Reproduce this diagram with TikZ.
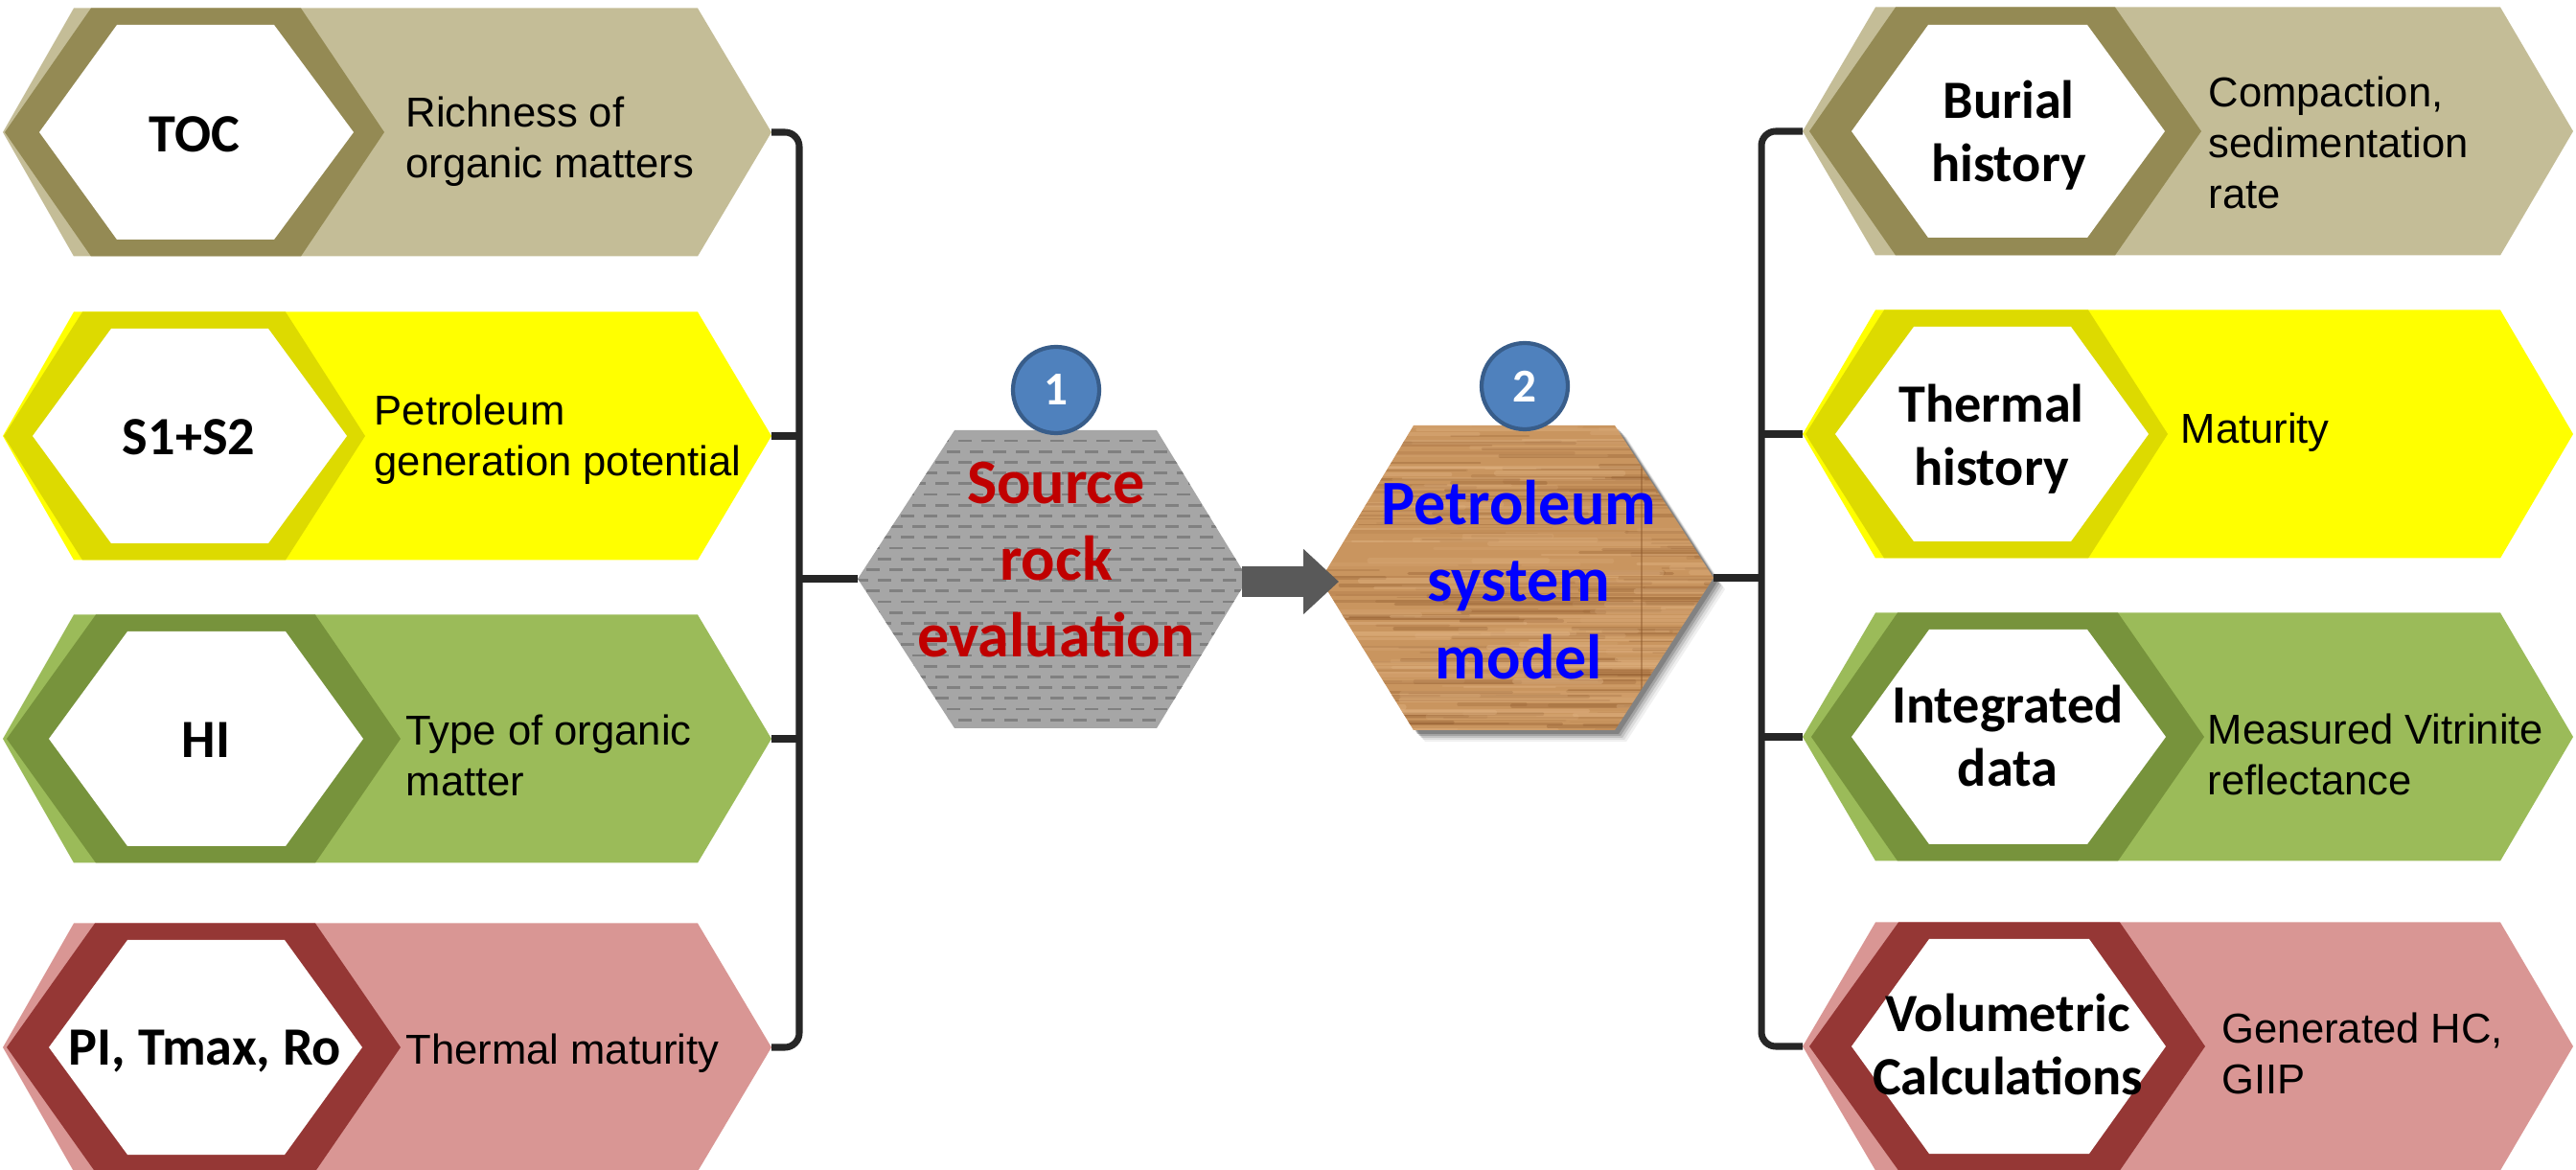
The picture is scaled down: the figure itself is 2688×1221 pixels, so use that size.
\documentclass[tikz,border=0pt]{standalone}
\usepackage{fontspec}
\setmainfont{Liberation Sans}
\newfontfamily\carl{Carlito}
\usetikzlibrary{arrows.meta}
\definecolor{tanL}{HTML}{C4BD97}
\definecolor{tanD}{HTML}{948A54}
\definecolor{yelL}{HTML}{FFFF00}
\definecolor{yelD}{HTML}{DDDA00}
\definecolor{grnL}{HTML}{9BBB59}
\definecolor{grnD}{HTML}{77933C}
\definecolor{redL}{HTML}{D99694}
\definecolor{redD}{HTML}{953735}
\definecolor{connC}{HTML}{262626}
\definecolor{rockG}{HTML}{A6A6A6}
\definecolor{rockD}{HTML}{808080}
\definecolor{arrG}{HTML}{595959}
\definecolor{woodB}{HTML}{C9955F}
\definecolor{woodD}{HTML}{8A5529}
\definecolor{woodLt}{HTML}{E3B686}
\definecolor{numF}{HTML}{4F81BD}
\definecolor{numD}{HTML}{385D8A}
\definecolor{srcRed}{HTML}{C00000}
\newcommand\hexfill[7]{\fill[#1] (#4,#2) -- (#5,#2-#3) -- (#6,#2-#3) -- (#7,#2) -- (#6,#2+#3) -- (#5,#2+#3) -- cycle;}
\tikzset{
  lab/.style={font=\carl\bfseries\fontsize{16}{18.8}\selectfont, align=center, inner sep=0pt},
  desc/.style={font=\fontsize{12.4}{15.1}\selectfont, align=left, anchor=west, inner sep=0pt},
  big/.style={font=\carl\bfseries\fontsize{18.8}{22.8}\selectfont, align=center, inner sep=0pt},
  conn/.style={draw=connC, line width=2pt},
  numc/.style={circle, fill=numF, draw=numD, line width=1.2pt, minimum size=9mm, inner sep=0pt,
    text=white, font=\carl\bfseries\fontsize{14}{14}\selectfont}
}
\begin{document}
\begin{tikzpicture}[x=0.1mm,y=-0.1mm]
\useasboundingbox (0,0) rectangle (2688,1221);

% ---------- left rows ----------
\hexfill{tanL}{138}{129.5}{3}{77}{728}{805}
\hexfill{tanD}{138}{129.5}{5}{95}{314}{401}
\hexfill{white}{138}{112}{41}{122}{286}{369}

\hexfill{yelL}{455}{129.5}{3}{77}{728}{805}
\hexfill{yelD}{455}{129.5}{4}{86}{298}{381}
\hexfill{white}{455}{112}{34}{116}{280}{362}

\hexfill{grnL}{771}{129.5}{3}{77}{728}{805}
\hexfill{grnD}{771}{129.5}{7}{100}{329}{418}
\hexfill{white}{771}{112}{51}{133}{298}{379}

\hexfill{redL}{1093}{129.5}{3}{77}{728}{805}
\hexfill{redD}{1093}{129.5}{7}{99}{329}{418}
\hexfill{white}{1093}{112}{51}{133}{297}{378}

% ---------- right rows ----------
\hexfill{tanL}{137}{129.5}{1881}{1957}{2609}{2685}
\hexfill{tanD}{137}{129.5}{1888}{1978}{2207}{2297}
\hexfill{white}{137}{111}{1932}{2012}{2178}{2259}

\hexfill{yelL}{453}{129.5}{1881}{1957}{2609}{2685}
\hexfill{yelD}{453}{129.5}{1884}{1966}{2179}{2262}
\hexfill{white}{453}{112}{1915}{1997}{2161}{2242}

\hexfill{grnL}{769}{129.5}{1881}{1957}{2609}{2685}
\hexfill{grnD}{769}{129.5}{1890}{1980}{2210}{2300}
\hexfill{white}{769}{112}{1932}{2013}{2178}{2260}

\hexfill{redL}{1092}{129.5}{1881}{1957}{2609}{2685}
\hexfill{redD}{1092}{129.5}{1888}{1981}{2212}{2301}
\hexfill{white}{1092}{112}{1932}{2013}{2180}{2260}

% ---------- source rock hexagon ----------
\begin{scope}
  \clip (895,604) -- (996,449) -- (1207,449) -- (1302,604) -- (1207,760) -- (996,760) -- cycle;
  \fill[rockG] (880,440) rectangle (1320,770);
  \foreach \i in {0,...,27} {
    \pgfmathsetmacro\yy{460+\i*11.2}
    \pgfmathsetmacro\ph{mod(\i,2)*1.2}
    \draw[rockD, line width=0.75pt, dash pattern=on 1.4mm off 1mm, dash phase=\ph mm] (880,\yy) -- (1320,\yy);
  }
\end{scope}

% ---------- petroleum system hexagon ----------
\foreach \d/\o in {12/0.06,10/0.08,8/0.12,6/0.16,4/0.2}{
  \fill[black, opacity=\o, shift={(\d,\d)}] (1378,605) -- (1475,444) -- (1685,444) -- (1788,603) -- (1685,762) -- (1475,762) -- cycle;
}
\begin{scope}
  \clip (1378,605) -- (1475,444) -- (1685,444) -- (1788,603) -- (1685,762) -- (1475,762) -- cycle;
  \fill[woodB] (1370,440) rectangle (1800,770);
  \pgfmathsetseed{17}
  \foreach \k in {1,...,200} {
    \pgfmathsetmacro\yy{444+rnd*320}
    \pgfmathsetmacro\xx{1300+rnd*500}
    \pgfmathsetmacro\ll{60+rnd*260}
    \pgfmathsetmacro\ww{0.3+rnd*1.0}
    \pgfmathsetmacro\op{0.08+rnd*0.25}
    \draw[woodD, line width=\ww pt, opacity=\op, line cap=round] (\xx,\yy) -- ++(\ll,0);
  }
  \foreach \k in {1,...,140} {
    \pgfmathsetmacro\yy{444+rnd*320}
    \pgfmathsetmacro\xx{1300+rnd*500}
    \pgfmathsetmacro\ll{60+rnd*260}
    \pgfmathsetmacro\ww{0.4+rnd*1.4}
    \pgfmathsetmacro\op{0.12+rnd*0.3}
    \draw[woodLt, line width=\ww pt, opacity=\op, line cap=round] (\xx,\yy) -- ++(\ll,0);
  }
  \draw[woodD, opacity=0.45, line width=0.3pt] (1713,440) -- (1713,770);
\end{scope}

% ---------- named points ----------
\coordinate (tocR) at (805,138);
\coordinate (s12R) at (805,455);
\coordinate (hiR) at (805,771);
\coordinate (piR) at (805,1093);
\coordinate (lbTop) at (834,138);
\coordinate (lbBot) at (834,1093);
\coordinate (lbMid) at (834,604);
\coordinate (srcL) at (895,604);
\coordinate (arrS) at (1296,607);
\coordinate (arrE) at (1397,607);
\coordinate (petR) at (1788,603);
\coordinate (rbMid) at (1838,603);
\coordinate (rbTop) at (1838,137);
\coordinate (rbBot) at (1838,1092);
\coordinate (burL) at (1881,137);
\coordinate (thrL) at (1881,453);
\coordinate (intL) at (1881,769);
\coordinate (volL) at (1881,1092);

% ---------- connectors ----------
\draw[conn, rounded corners=1.5mm] (tocR) -- (lbTop) -- (lbBot) -- (piR);
\draw[conn] (s12R) -- (s12R -| lbTop);
\draw[conn] (hiR) -- (hiR -| lbTop);
\draw[conn] (lbMid) -- (srcL);
\draw[arrG, line width=3.2mm, -{Triangle[length=3.7mm,width=6.6mm]}] (arrS) -- (arrE);
\draw[conn, rounded corners=1.5mm] (burL) -- (rbTop) -- (rbBot) -- (volL);
\draw[conn] (thrL) -- (thrL -| rbTop);
\draw[conn] (intL) -- (intL -| rbTop);
\draw[conn] (petR) -- (rbMid);

% ---------- number badges ----------
\node[numc] (n1) at (1102,407) {1};
\node[numc] (n2) at (1591,403) {2};

% ---------- texts ----------
\node[lab] (toc) at (203,140) {TOC};
\node[lab] (s12) at (197,456) {S1+S2};
\node[lab] (hi) at (215,772) {HI};
\node[lab] (pi) at (214,1097) {PI, Tmax, Ro};

\node[desc] (tocd) at (423,148) {Richness of\\organic matters};
\node[desc] (s12d) at (390,459) {Petroleum\\generation potential};
\node[desc] (hid) at (423,788) {Type of organic\\matter};
\node[desc] (pid) at (423,1099) {Thermal maturity};

\node[lab] (bur) at (2096,141) {Burial\\history};
\node[lab] (thr) at (2078,458) {Thermal\\history};
\node[lab] (int) at (2095,768) {Integrated\\data};
\node[lab] (vol) at (2095,1090) {Volumetric\\Calculations};

\node[desc] (burd) at (2304,149) {Compaction,\\sedimentation\\rate};
\node[desc] (thrd) at (2275,451) {Maturity};
\node[desc] (intd) at (2303,787) {Measured Vitrinite\\reflectance};
\node[desc] (vold) at (2318,1099) {Generated HC,\\GIIP};

\node[big, text=srcRed] (src) at (1102,584) {Source\\rock\\evaluation};
\node[big, text=blue] (pet) at (1585,605) {Petroleum\\system\\model};
\end{tikzpicture}
\end{document}
